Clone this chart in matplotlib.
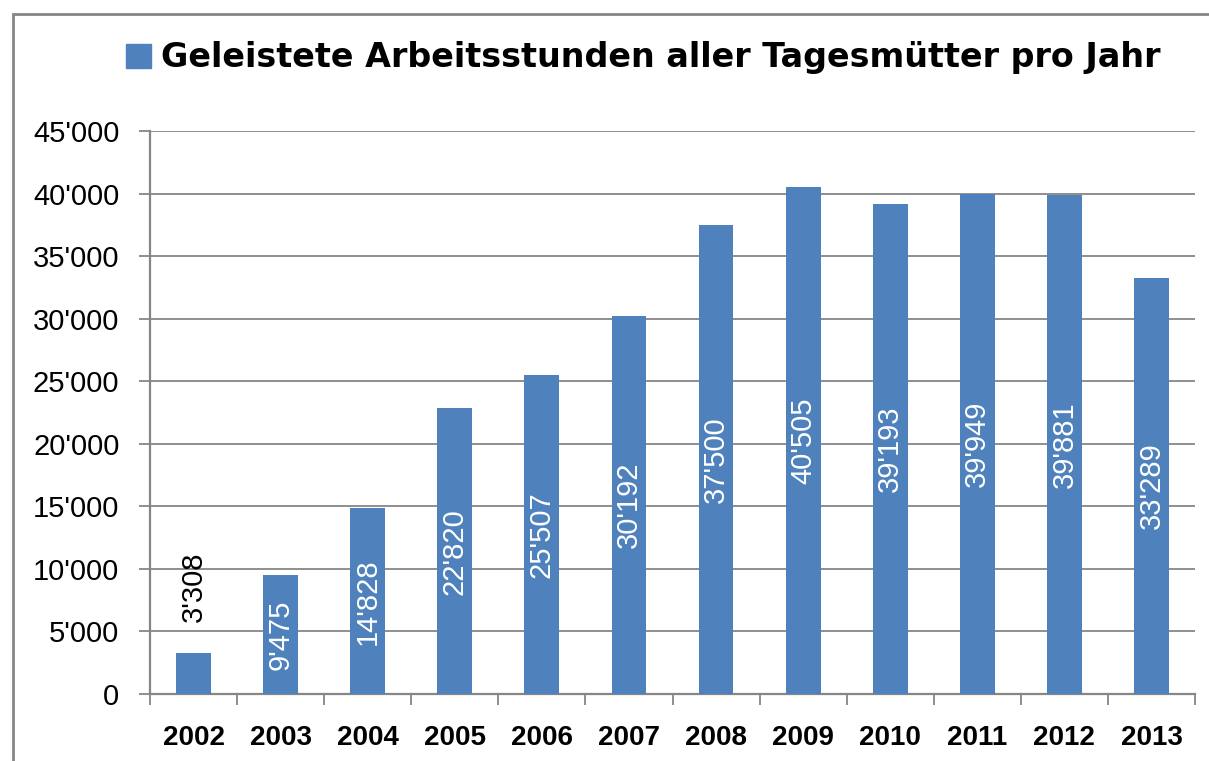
import matplotlib
matplotlib.use("Agg")
import matplotlib.pyplot as plt
from matplotlib.patches import Patch, Rectangle

jahre = ["2002", "2003", "2004", "2005", "2006", "2007", "2008", "2009", "2010", "2011", "2012", "2013"]
stunden = [3308, 9475, 14828, 22820, 25507, 30192, 37500, 40505, 39193, 39949, 39881, 33289]
titel = "Geleistete Arbeitsstunden aller Tagesmütter pro Jahr"
y_ticks = [0, 5000, 10000, 15000, 20000, 25000, 30000, 35000, 40000, 45000]

blau = "#4F81BD"
grau = "#868686"

def fmt(v):
    return f"{v:,}".replace(",", "'")

fig = plt.figure(figsize=(12.09, 7.61), dpi=100)
ax = fig.add_axes([150/1209, 1-694/761, (1195-150)/1209, (694-131)/761])

x = range(len(jahre))
bars = ax.bar(x, stunden, width=0.4, color=blau, zorder=3)

ax.set_ylim(0, 45000)
ax.set_xlim(-0.5, len(jahre) - 0.5)
ax.set_yticks(y_ticks)
ax.set_yticklabels([fmt(v) for v in y_ticks], fontsize=21, family="Liberation Sans")
ax.yaxis.grid(True, color=grau, linewidth=1.3, zorder=0)
ax.tick_params(axis="y", length=8, width=1.3, color=grau, pad=14)

# x ticks at category boundaries, labels in the middle
ax.set_xticks([i - 0.5 for i in range(len(jahre) + 1)])
ax.set_xticklabels([])
ax.set_xticks(list(x), minor=True)
ax.set_xticklabels(jahre, minor=True, fontsize=20, fontweight="bold", family="Liberation Sans")
ax.tick_params(axis="x", which="major", length=8, width=1.3, color=grau)
ax.tick_params(axis="x", which="minor", length=0, pad=22)

for s in ["top", "right"]:
    ax.spines[s].set_visible(False)
for s in ["left", "bottom"]:
    ax.spines[s].set_color(grau)
    ax.spines[s].set_linewidth(1.6)

for i, v in enumerate(stunden):
    if v < 5000:
        ax.annotate(fmt(v), (i, v), xytext=(0, 22), textcoords="offset points",
                    rotation=90, ha="center", va="bottom", fontsize=21,
                    family="Liberation Sans", color="black")
    else:
        ax.text(i, v / 2, fmt(v), rotation=90, ha="center", va="center",
                fontsize=21, family="Liberation Sans", color="white", zorder=4)

fig.legend(handles=[Patch(color=blau, label=titel)], loc="center",
           bbox_to_anchor=(0.532, 0.924), frameon=False,
           prop={"weight": "bold", "size": 24, "family": "DejaVu Sans"},
           handlelength=0.75, handleheight=0.75, handletextpad=0.3)

fig.patches.append(Rectangle((13/1209, -0.1), 1.2, 1 - 14/761 + 0.1,
                             transform=fig.transFigure, fill=False,
                             edgecolor=grau, linewidth=2))

fig.savefig("out.png", dpi=100)
